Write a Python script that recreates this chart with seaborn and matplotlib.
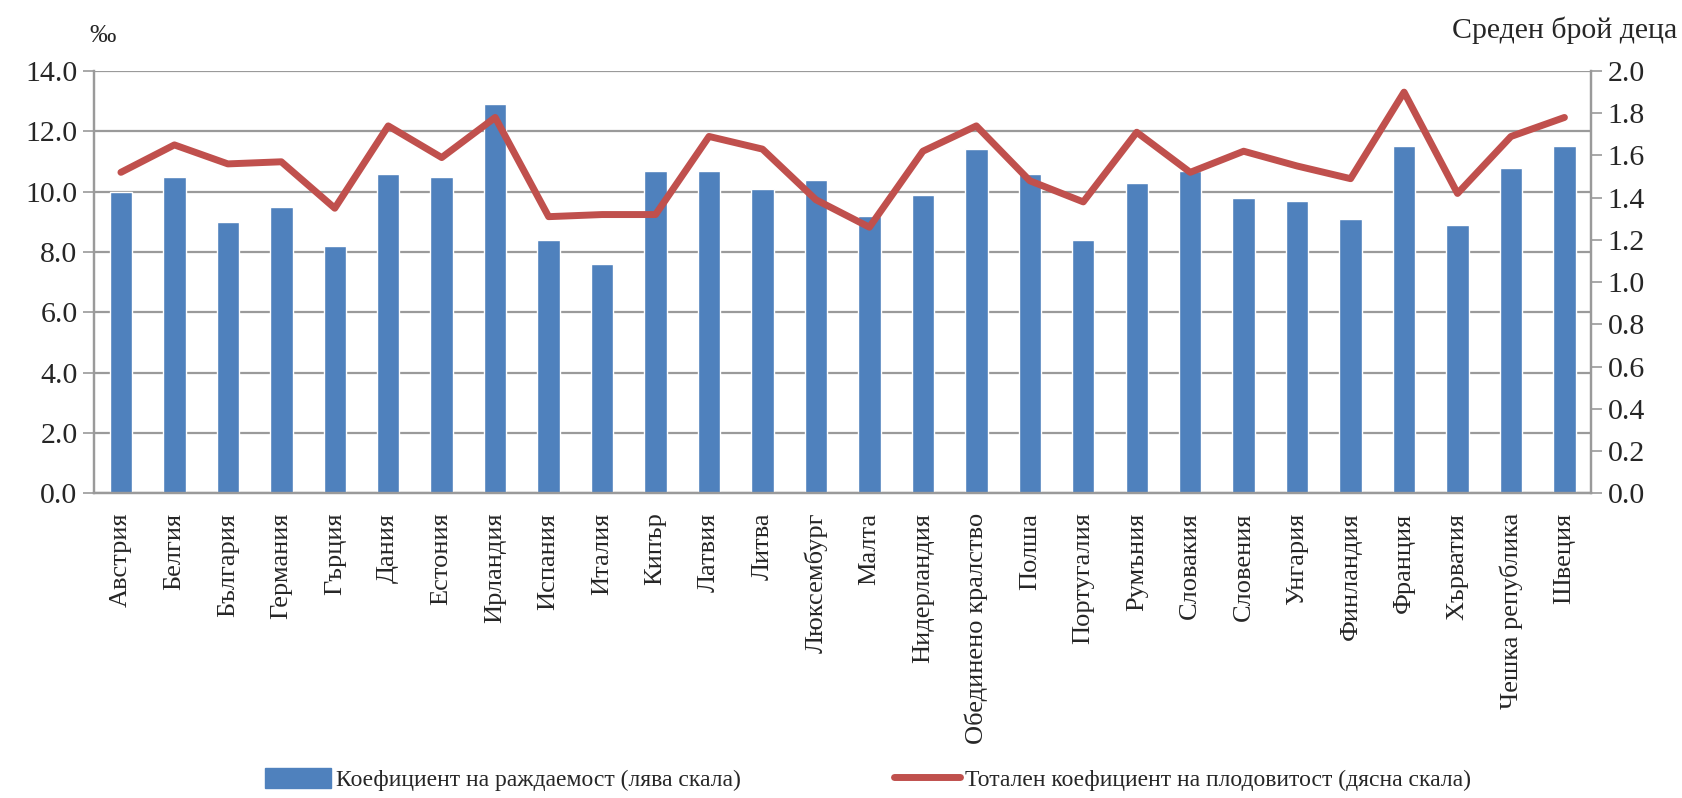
import numpy as np
import pandas as pd
import matplotlib
matplotlib.use('Agg')
import matplotlib.pyplot as plt
import seaborn as sns
from matplotlib.patches import Patch
from matplotlib.lines import Line2D

# data
countries = ['Австрия', 'Белгия', 'България', 'Германия', 'Гърция', 'Дания', 'Естония',
             'Ирландия', 'Испания', 'Италия', 'Кипър', 'Латвия', 'Литва', 'Люксембург',
             'Малта', 'Нидерландия', 'Обединено кралство', 'Полша', 'Португалия', 'Румъния',
             'Словакия', 'Словения', 'Унгария', 'Финландия', 'Франция', 'Хърватия',
             'Чешка република', 'Швеция']
birth_rate = [10.0, 10.5, 9.0, 9.5, 8.2, 10.6, 10.5, 12.9, 8.4, 7.6, 10.7, 10.7, 10.1, 10.4,
              9.2, 9.9, 11.4, 10.6, 8.4, 10.3, 10.7, 9.8, 9.7, 9.1, 11.5, 8.9, 10.8, 11.5]
fertility = [1.52, 1.65, 1.56, 1.57, 1.35, 1.74, 1.59, 1.78, 1.31, 1.32, 1.32, 1.69, 1.63, 1.39,
             1.26, 1.62, 1.74, 1.48, 1.38, 1.71, 1.52, 1.62, 1.55, 1.49, 1.90, 1.42, 1.69, 1.78]
left_ticks = np.arange(0, 14.1, 2.0)
right_ticks = np.arange(0, 2.01, 0.2)

label_bar = 'Коефициент на раждаемост (лява скала)'
label_line = 'Тотален коефициент на плодовитост (дясна скала)'

sns.set_theme(style='white')
plt.rcParams['font.family'] = ['Liberation Serif', 'DejaVu Serif']

BLUE = '#4F81BD'
RED = '#C0504D'
GRID = '#9a9a9a'

df = pd.DataFrame({'country': countries, 'birth': birth_rate, 'tfr': fertility,
                   'pos': np.arange(len(countries))})

fig = plt.figure(figsize=(16.82, 7.98), dpi=100)
ax = fig.add_axes([0.056, 0.382, 0.890, 0.529])

sns.barplot(data=df, x='country', y='birth', color=BLUE, saturation=1, width=0.42, ax=ax)

ax2 = ax.twinx()
sns.lineplot(data=df, x='pos', y='tfr', color=RED, linewidth=5, ax=ax2)

ax.set_xlim(-0.5, len(countries) - 0.5)
ax.set_ylim(0, 14)
ax.set_yticks(left_ticks)
ax.set_yticklabels([f'{v:.1f}' for v in left_ticks], fontsize=21.5)
ax.yaxis.grid(True, color=GRID, linewidth=1.6)
ax.set_axisbelow(True)
ax.set_xlabel('')
ax.set_ylabel('')

# category labels at centres, tick marks at the boundaries
ax.set_xticks(np.arange(-0.5, len(countries), 1.0))
ax.set_xticklabels([''] * (len(countries) + 1))
ax.set_xticks(np.arange(len(countries)), minor=True)
ax.set_xticklabels(countries, minor=True, rotation=90, fontsize=19, va='top')
ax.tick_params(axis='x', which='minor', length=0, pad=14)
ax.tick_params(axis='x', which='major', length=9, width=1.2, color=GRID, direction='out')
ax.tick_params(axis='y', length=8, width=1.2, color=GRID, direction='out', pad=4)

ax2.set_ylim(0, 2.0)
ax2.set_yticks(right_ticks)
ax2.set_yticklabels([f'{v:.1f}' for v in right_ticks], fontsize=21.5)
ax2.tick_params(axis='y', length=8, width=1.2, color=GRID, direction='out', pad=4)
ax2.set_ylabel('')
ax2.set_xlabel('')

for a in (ax, ax2):
    a.spines['top'].set_visible(False)
    for side in ['left', 'bottom', 'right']:
        a.spines[side].set_color(GRID)
        a.spines[side].set_linewidth(1.6)

fig.text(0.053, 0.955, '‰', fontsize=19, ha='left', va='center')
fig.text(0.997, 0.962, 'Среден брой деца', fontsize=21.5, ha='right', va='center')

handles = [Patch(facecolor=BLUE, edgecolor=BLUE, label=label_bar),
           Line2D([0], [0], color=RED, linewidth=5, label=label_line)]
fig.legend(handles=handles, loc='lower left', bbox_to_anchor=(0.145, -0.018), ncol=2,
           frameon=False, fontsize=17, handlelength=2.8, handleheight=0.9,
           handletextpad=0.2, columnspacing=6.5)

fig.savefig('out.png', dpi=100)
